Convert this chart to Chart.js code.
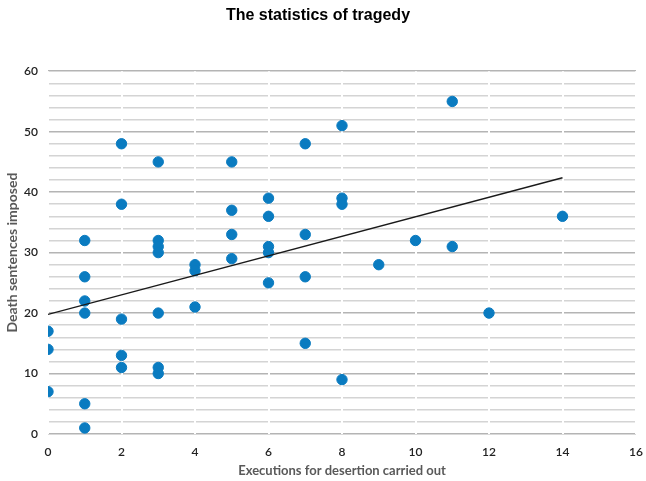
<!DOCTYPE html>
<html>
<head>
<meta charset="utf-8">
<script src="https://cdn.jsdelivr.net/npm/chart.js@4"></script>
<style>
  body { margin: 0; background: #fff; }
  #wrap { width: 646px; height: 481px; }
</style>
</head>
<body>
<div id="wrap"><canvas id="tragedy-chart" width="646" height="481"></canvas></div>
<script>
// executions (x) and death sentences (y) per unit
var executions = [0, 0, 0,
    1, 1, 1, 1, 1, 1,
    2, 2, 2, 2, 2,
    3, 3, 3, 3, 3, 3, 3,
    4, 4, 4,
    5, 5, 5, 5,
    6, 6, 6, 6, 6,
    7, 7, 7, 7,
    8, 8, 8, 8,
    9, 10, 11, 11, 12, 14];
var sentences = [17, 14, 7,
    32, 26, 22, 20, 5, 1,
    48, 38, 19, 13, 11,
    45, 32, 31, 30, 20, 11, 10,
    28, 27, 21,
    45, 37, 33, 29,
    39, 36, 31, 30, 25,
    48, 33, 26, 15,
    51, 39, 38, 9,
    28, 32, 55, 31, 20, 36];
var trendRange = [0, 14];

document.addEventListener("DOMContentLoaded", function() {
    var points = executions.map(function(x, i) { return { x: x, y: sentences[i] }; });

    // least squares trend line
    var n = executions.length, sx = 0, sy = 0, sxx = 0, sxy = 0;
    for (var i = 0; i < n; i++) {
        sx += executions[i]; sy += sentences[i];
        sxx += executions[i] * executions[i]; sxy += executions[i] * sentences[i];
    }
    var slope = (n * sxy - sx * sy) / (n * sxx - sx * sx);
    var icpt = (sy - slope * sx) / n;
    var trend = trendRange.map(function(x) { return { x: x, y: icpt + slope * x }; });

    var ctx = document.getElementById('tragedy-chart').getContext('2d');
    new Chart(ctx, {
        type: 'scatter',
        data: {
            datasets: [{
                type: 'line',
                data: trend,
                borderColor: '#1a1a1a',
                borderWidth: 1.3,
                pointRadius: 0,
                fill: false
            }, {
                data: points,
                backgroundColor: '#0a7bc0',
                borderColor: '#0a7bc0',
                pointRadius: 5.2,
                pointHoverRadius: 5.2
            }]
        },
        options: {
            responsive: false,
            animation: false,
            layout: { padding: { left: 0, right: 10, top: 0, bottom: 2 } },
            plugins: {
                legend: { display: false },
                tooltip: { enabled: false },
                title: {
                    display: true,
                    text: 'The statistics of tragedy',
                    color: '#000',
                    font: { family: 'Liberation Sans', size: 16, weight: 'bold' },
                    padding: { top: 6, bottom: 46 }
                }
            },
            scales: {
                x: {
                    min: 0, max: 16,
                    afterFit: function(s) { s.height = 45; s.paddingRight = 0; s.paddingLeft = 0; },
                    ticks: { stepSize: 2, color: '#222', font: { family: 'Lato', size: 12, weight: '600' }, padding: 11 },
                    grid: { color: '#ffffff', lineWidth: 2, drawTicks: false, z: -1 },
                    border: { display: false },
                    title: {
                        display: true,
                        text: 'Executions for desertion carried out',
                        color: '#595959',
                        font: { family: 'Lato', size: 13, weight: 'bold' },
                        padding: { top: 5, bottom: 0 }
                    }
                },
                y: {
                    min: 0, max: 60,
                    afterFit: function(s) { s.width = 48; },
                    ticks: {
                        stepSize: 2, color: '#222', font: { family: 'Lato', size: 12, weight: '600' }, padding: 10,
                        autoSkip: false,
                        callback: function(v) { return v % 10 === 0 ? v : ''; }
                    },
                    grid: {
                        color: function(c) { return c.tick && c.tick.value % 10 === 0 ? '#b4b4b4' : '#d4d4d4'; },
                        lineWidth: 1.5, drawTicks: false, z: -2
                    },
                    border: { display: false },
                    title: {
                        display: true,
                        text: 'Death sentences imposed',
                        color: '#595959',
                        font: { family: 'Lato', size: 14, weight: 'bold' },
                        padding: { top: 4, bottom: 0 }
                    }
                }
            }
        }
    });
});
</script>
</body>
</html>
